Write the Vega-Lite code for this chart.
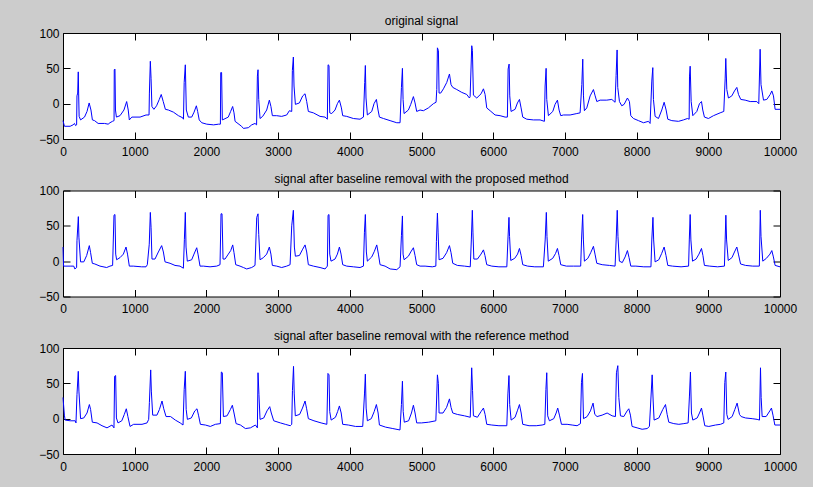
{
"$schema": "https://vega.github.io/schema/vega-lite/v6.json",
"background": "#cccccc",
"padding": {"left": 38, "top": 14, "right": 18, "bottom": 14},
"autosize": {"type": "pad"},
"spacing": 51.5,
"bounds": "flush",
"config": {
  "view": {"stroke": "black", "strokeWidth": 1, "fill": "white"},
  "font": "Liberation Sans",
  "axis": {"grid": false, "domain": false, "tickColor": "black", "tickSize": -7, "tickWidth": 1, "labelFontSize": 12, "labelColor": "black", "labelFont": "Liberation Sans", "labelFlush": false, "labelOverlap": false, "format": "d"},
  "title": {"fontSize": 12, "fontWeight": "normal", "font": "Liberation Sans", "color": "black", "offset": -1}
},
"datasets": {
"p1": [{"x":0,"y":-24},{"x":20,"y":-32},{"x":100,"y":-32},{"x":140,"y":-30},{"x":160,"y":-28},{"x":175,"y":-31},{"x":190,"y":-30},{"x":195,"y":11},{"x":205,"y":15},{"x":213,"y":45},{"x":218,"y":15},{"x":225,"y":-18},{"x":245,"y":-23},{"x":300,"y":-19},{"x":335,"y":-11},{"x":365,"y":1},{"x":390,"y":-9},{"x":410,"y":-23},{"x":440,"y":-24},{"x":490,"y":-28},{"x":580,"y":-28},{"x":630,"y":-29},{"x":655,"y":-27},{"x":690,"y":-25},{"x":712,"y":-24},{"x":715,"y":48},{"x":725,"y":49},{"x":732,"y":-9},{"x":745,"y":-19},{"x":795,"y":-17},{"x":850,"y":-9},{"x":888,"y":3},{"x":910,"y":-9},{"x":925,"y":-23},{"x":960,"y":-19},{"x":1075,"y":-19},{"x":1158,"y":-16},{"x":1200,"y":-16},{"x":1205,"y":15},{"x":1218,"y":60},{"x":1228,"y":36},{"x":1240,"y":-4},{"x":1268,"y":-8},{"x":1305,"y":-3},{"x":1343,"y":6},{"x":1370,"y":13},{"x":1398,"y":3},{"x":1428,"y":-8},{"x":1470,"y":-9},{"x":1540,"y":-12},{"x":1610,"y":-17},{"x":1670,"y":-20},{"x":1680,"y":-22},{"x":1690,"y":30},{"x":1706,"y":55},{"x":1720,"y":-9},{"x":1748,"y":-19},{"x":1795,"y":-19},{"x":1828,"y":-12},{"x":1860,"y":-3},{"x":1878,"y":-11},{"x":1900,"y":-23},{"x":1935,"y":-27},{"x":2005,"y":-29},{"x":2100,"y":-30},{"x":2170,"y":-29},{"x":2195,"y":-29},{"x":2200,"y":44},{"x":2212,"y":44},{"x":2222,"y":-23},{"x":2245,"y":-22},{"x":2305,"y":-19},{"x":2338,"y":-11},{"x":2366,"y":-4},{"x":2385,"y":-13},{"x":2400,"y":-25},{"x":2490,"y":-32},{"x":2516,"y":-35},{"x":2585,"y":-34},{"x":2632,"y":-30},{"x":2678,"y":-28},{"x":2700,"y":-30},{"x":2711,"y":39},{"x":2720,"y":48},{"x":2730,"y":6},{"x":2748,"y":-21},{"x":2785,"y":-18},{"x":2841,"y":-9},{"x":2878,"y":5},{"x":2900,"y":-4},{"x":2920,"y":-17},{"x":2980,"y":-17},{"x":3050,"y":-18},{"x":3120,"y":-16},{"x":3157,"y":-10},{"x":3190,"y":-11},{"x":3199,"y":47},{"x":3213,"y":66},{"x":3222,"y":25},{"x":3241,"y":-1},{"x":3297,"y":1},{"x":3343,"y":11},{"x":3376,"y":14},{"x":3399,"y":3},{"x":3422,"y":-11},{"x":3492,"y":-13},{"x":3585,"y":-18},{"x":3655,"y":-19},{"x":3687,"y":-22},{"x":3697,"y":55},{"x":3710,"y":54},{"x":3720,"y":-13},{"x":3748,"y":-14},{"x":3794,"y":-9},{"x":3827,"y":0},{"x":3855,"y":5},{"x":3883,"y":-6},{"x":3901,"y":-17},{"x":3957,"y":-18},{"x":4050,"y":-21},{"x":4143,"y":-22},{"x":4190,"y":-19},{"x":4208,"y":30},{"x":4217,"y":54},{"x":4226,"y":8},{"x":4245,"y":-16},{"x":4306,"y":-11},{"x":4338,"y":0},{"x":4371,"y":6},{"x":4394,"y":-9},{"x":4413,"y":-19},{"x":4469,"y":-21},{"x":4562,"y":-24},{"x":4655,"y":-27},{"x":4701,"y":-27},{"x":4720,"y":23},{"x":4734,"y":50},{"x":4743,"y":6},{"x":4757,"y":-14},{"x":4817,"y":-9},{"x":4850,"y":-1},{"x":4887,"y":10},{"x":4910,"y":1},{"x":4933,"y":-11},{"x":4980,"y":-9},{"x":5026,"y":-10},{"x":5096,"y":-6},{"x":5166,"y":0},{"x":5203,"y":2},{"x":5213,"y":20},{"x":5222,"y":79},{"x":5236,"y":75},{"x":5245,"y":15},{"x":5268,"y":15},{"x":5306,"y":21},{"x":5352,"y":30},{"x":5390,"y":42},{"x":5412,"y":27},{"x":5436,"y":23},{"x":5492,"y":20},{"x":5561,"y":16},{"x":5631,"y":13},{"x":5668,"y":8},{"x":5678,"y":10},{"x":5701,"y":82},{"x":5710,"y":75},{"x":5724,"y":12},{"x":5771,"y":8},{"x":5831,"y":14},{"x":5864,"y":21},{"x":5887,"y":13},{"x":5910,"y":-6},{"x":5957,"y":-10},{"x":6026,"y":-16},{"x":6096,"y":-17},{"x":6166,"y":-19},{"x":6198,"y":-19},{"x":6208,"y":49},{"x":6222,"y":56},{"x":6231,"y":11},{"x":6249,"y":-11},{"x":6305,"y":-8},{"x":6338,"y":1},{"x":6366,"y":6},{"x":6389,"y":-6},{"x":6412,"y":-19},{"x":6468,"y":-22},{"x":6561,"y":-23},{"x":6654,"y":-23},{"x":6714,"y":-25},{"x":6724,"y":25},{"x":6738,"y":50},{"x":6747,"y":6},{"x":6770,"y":-17},{"x":6831,"y":-11},{"x":6863,"y":-1},{"x":6896,"y":5},{"x":6919,"y":-9},{"x":6942,"y":-17},{"x":6980,"y":-16},{"x":7073,"y":-16},{"x":7166,"y":-14},{"x":7212,"y":-13},{"x":7236,"y":27},{"x":7249,"y":63},{"x":7259,"y":11},{"x":7272,"y":-10},{"x":7305,"y":-6},{"x":7352,"y":11},{"x":7398,"y":20},{"x":7422,"y":11},{"x":7445,"y":3},{"x":7491,"y":5},{"x":7584,"y":5},{"x":7654,"y":6},{"x":7700,"y":2},{"x":7714,"y":40},{"x":7728,"y":76},{"x":7737,"y":23},{"x":7761,"y":3},{"x":7793,"y":-3},{"x":7826,"y":-1},{"x":7872,"y":8},{"x":7900,"y":3},{"x":7919,"y":-17},{"x":7956,"y":-21},{"x":8026,"y":-24},{"x":8096,"y":-27},{"x":8165,"y":-25},{"x":8188,"y":-28},{"x":8212,"y":32},{"x":8226,"y":51},{"x":8235,"y":6},{"x":8258,"y":-18},{"x":8305,"y":-21},{"x":8351,"y":-9},{"x":8384,"y":2},{"x":8412,"y":-9},{"x":8435,"y":-22},{"x":8491,"y":-24},{"x":8584,"y":-25},{"x":8654,"y":-23},{"x":8709,"y":-21},{"x":8733,"y":-22},{"x":8738,"y":39},{"x":8747,"y":53},{"x":8761,"y":3},{"x":8784,"y":-17},{"x":8840,"y":-11},{"x":8877,"y":0},{"x":8905,"y":3},{"x":8923,"y":-9},{"x":8946,"y":-19},{"x":9002,"y":-21},{"x":9072,"y":-17},{"x":9165,"y":-13},{"x":9216,"y":-11},{"x":9235,"y":35},{"x":9244,"y":64},{"x":9258,"y":20},{"x":9281,"y":8},{"x":9328,"y":11},{"x":9365,"y":18},{"x":9398,"y":23},{"x":9421,"y":13},{"x":9453,"y":6},{"x":9514,"y":5},{"x":9584,"y":3},{"x":9677,"y":3},{"x":9704,"y":0},{"x":9723,"y":77},{"x":9735,"y":27},{"x":9770,"y":5},{"x":9816,"y":6},{"x":9863,"y":13},{"x":9886,"y":18},{"x":9909,"y":11},{"x":9932,"y":-8},{"x":10000,"y":-8}],
"p2": [{"x":0,"y":20},{"x":8,"y":-7},{"x":100,"y":-7},{"x":150,"y":-7},{"x":165,"y":-11},{"x":190,"y":-9},{"x":195,"y":29},{"x":214,"y":63},{"x":222,"y":34},{"x":245,"y":-1},{"x":290,"y":-1},{"x":330,"y":8},{"x":367,"y":22},{"x":385,"y":12},{"x":409,"y":-3},{"x":445,"y":-4},{"x":516,"y":-7},{"x":609,"y":-9},{"x":655,"y":-7},{"x":692,"y":-6},{"x":711,"y":65},{"x":725,"y":66},{"x":735,"y":10},{"x":748,"y":2},{"x":795,"y":5},{"x":842,"y":10},{"x":879,"y":20},{"x":900,"y":10},{"x":925,"y":-7},{"x":980,"y":-7},{"x":1097,"y":-8},{"x":1158,"y":-8},{"x":1176,"y":-5},{"x":1203,"y":24},{"x":1218,"y":69},{"x":1228,"y":48},{"x":1241,"y":3},{"x":1283,"y":3},{"x":1330,"y":13},{"x":1376,"y":22},{"x":1400,"y":13},{"x":1423,"y":-1},{"x":1493,"y":-3},{"x":1562,"y":-6},{"x":1632,"y":-7},{"x":1679,"y":-10},{"x":1693,"y":31},{"x":1706,"y":69},{"x":1716,"y":20},{"x":1734,"y":0},{"x":1795,"y":2},{"x":1827,"y":10},{"x":1865,"y":19},{"x":1883,"y":10},{"x":1911,"y":-7},{"x":1958,"y":-7},{"x":2051,"y":-8},{"x":2144,"y":-7},{"x":2190,"y":-5},{"x":2204,"y":67},{"x":2218,"y":67},{"x":2232,"y":3},{"x":2260,"y":3},{"x":2306,"y":10},{"x":2339,"y":15},{"x":2367,"y":23},{"x":2385,"y":12},{"x":2409,"y":-5},{"x":2469,"y":-7},{"x":2516,"y":-9},{"x":2562,"y":-11},{"x":2632,"y":-9},{"x":2678,"y":-6},{"x":2702,"y":62},{"x":2720,"y":67},{"x":2730,"y":38},{"x":2748,"y":2},{"x":2795,"y":5},{"x":2841,"y":10},{"x":2878,"y":20},{"x":2900,"y":10},{"x":2920,"y":-6},{"x":2980,"y":-7},{"x":3050,"y":-9},{"x":3120,"y":-7},{"x":3167,"y":-5},{"x":3190,"y":50},{"x":3213,"y":72},{"x":3227,"y":20},{"x":3241,"y":7},{"x":3297,"y":8},{"x":3343,"y":17},{"x":3376,"y":23},{"x":3399,"y":13},{"x":3422,"y":-5},{"x":3492,"y":-7},{"x":3585,"y":-9},{"x":3655,"y":-11},{"x":3687,"y":-7},{"x":3697,"y":65},{"x":3710,"y":66},{"x":3720,"y":10},{"x":3738,"y":0},{"x":3794,"y":3},{"x":3827,"y":10},{"x":3855,"y":20},{"x":3878,"y":10},{"x":3901,"y":-5},{"x":3957,"y":-7},{"x":4050,"y":-8},{"x":4143,"y":-9},{"x":4190,"y":-7},{"x":4204,"y":41},{"x":4217,"y":66},{"x":4231,"y":13},{"x":4245,"y":0},{"x":4306,"y":6},{"x":4343,"y":14},{"x":4376,"y":23},{"x":4399,"y":10},{"x":4422,"y":-5},{"x":4492,"y":-7},{"x":4562,"y":-11},{"x":4655,"y":-12},{"x":4701,"y":-8},{"x":4720,"y":36},{"x":4734,"y":64},{"x":4743,"y":10},{"x":4757,"y":2},{"x":4817,"y":7},{"x":4850,"y":13},{"x":4887,"y":19},{"x":4910,"y":8},{"x":4933,"y":-5},{"x":4980,"y":-7},{"x":5050,"y":-7},{"x":5150,"y":-8},{"x":5200,"y":-7},{"x":5208,"y":28},{"x":5222,"y":68},{"x":5232,"y":40},{"x":5245,"y":2},{"x":5300,"y":4},{"x":5350,"y":12},{"x":5390,"y":22},{"x":5412,"y":12},{"x":5436,"y":-3},{"x":5500,"y":-6},{"x":5600,"y":-7},{"x":5680,"y":-8},{"x":5695,"y":30},{"x":5709,"y":72},{"x":5718,"y":40},{"x":5730,"y":3},{"x":5780,"y":3},{"x":5830,"y":10},{"x":5864,"y":16},{"x":5885,"y":8},{"x":5910,"y":-5},{"x":5980,"y":-7},{"x":6080,"y":-8},{"x":6190,"y":-8},{"x":6205,"y":30},{"x":6220,"y":62},{"x":6228,"y":35},{"x":6245,"y":1},{"x":6300,"y":4},{"x":6340,"y":10},{"x":6366,"y":18},{"x":6390,"y":8},{"x":6412,"y":-5},{"x":6480,"y":-7},{"x":6580,"y":-8},{"x":6700,"y":-8},{"x":6725,"y":30},{"x":6741,"y":69},{"x":6750,"y":35},{"x":6768,"y":0},{"x":6830,"y":4},{"x":6870,"y":11},{"x":6896,"y":18},{"x":6918,"y":8},{"x":6942,"y":-5},{"x":7020,"y":-7},{"x":7120,"y":-7},{"x":7220,"y":-7},{"x":7232,"y":30},{"x":7248,"y":66},{"x":7258,"y":30},{"x":7272,"y":0},{"x":7320,"y":4},{"x":7360,"y":12},{"x":7398,"y":21},{"x":7420,"y":10},{"x":7445,"y":-3},{"x":7520,"y":-5},{"x":7620,"y":-6},{"x":7700,"y":-7},{"x":7715,"y":30},{"x":7730,"y":72},{"x":7740,"y":35},{"x":7760,"y":0},{"x":7800,"y":-2},{"x":7840,"y":6},{"x":7872,"y":15},{"x":7895,"y":5},{"x":7919,"y":-7},{"x":7990,"y":-7},{"x":8100,"y":-8},{"x":8200,"y":-8},{"x":8212,"y":30},{"x":8228,"y":62},{"x":8238,"y":30},{"x":8258,"y":-1},{"x":8310,"y":2},{"x":8350,"y":11},{"x":8384,"y":20},{"x":8410,"y":8},{"x":8435,"y":-6},{"x":8500,"y":-7},{"x":8620,"y":-8},{"x":8725,"y":-7},{"x":8735,"y":30},{"x":8747,"y":66},{"x":8757,"y":30},{"x":8780,"y":0},{"x":8830,"y":3},{"x":8870,"y":10},{"x":8905,"y":18},{"x":8925,"y":8},{"x":8946,"y":-6},{"x":9020,"y":-7},{"x":9130,"y":-8},{"x":9225,"y":-7},{"x":9235,"y":30},{"x":9245,"y":65},{"x":9255,"y":30},{"x":9278,"y":1},{"x":9330,"y":5},{"x":9365,"y":13},{"x":9398,"y":20},{"x":9420,"y":10},{"x":9450,"y":-4},{"x":9520,"y":-6},{"x":9620,"y":-7},{"x":9712,"y":-7},{"x":9725,"y":72},{"x":9735,"y":35},{"x":9760,"y":0},{"x":9810,"y":4},{"x":9860,"y":10},{"x":9886,"y":15},{"x":9908,"y":6},{"x":9932,"y":-6},{"x":10000,"y":-8}],
"p3": [{"x":0,"y":30},{"x":19,"y":5},{"x":30,"y":-2},{"x":100,"y":-3},{"x":170,"y":-3},{"x":181,"y":-6},{"x":195,"y":34},{"x":213,"y":67},{"x":222,"y":39},{"x":245,"y":0},{"x":290,"y":1},{"x":335,"y":8},{"x":368,"y":20},{"x":385,"y":13},{"x":409,"y":-5},{"x":475,"y":-6},{"x":544,"y":-10},{"x":614,"y":-13},{"x":683,"y":-9},{"x":711,"y":-13},{"x":720,"y":60},{"x":734,"y":61},{"x":745,"y":1},{"x":767,"y":-6},{"x":820,"y":-3},{"x":855,"y":6},{"x":883,"y":14},{"x":905,"y":3},{"x":935,"y":-11},{"x":985,"y":-8},{"x":1102,"y":-8},{"x":1172,"y":-6},{"x":1195,"y":-1},{"x":1205,"y":23},{"x":1223,"y":69},{"x":1232,"y":39},{"x":1251,"y":5},{"x":1310,"y":5},{"x":1345,"y":13},{"x":1381,"y":25},{"x":1405,"y":14},{"x":1437,"y":3},{"x":1500,"y":3},{"x":1567,"y":-2},{"x":1635,"y":-6},{"x":1674,"y":-9},{"x":1690,"y":41},{"x":1706,"y":67},{"x":1718,"y":13},{"x":1735,"y":-1},{"x":1790,"y":1},{"x":1838,"y":11},{"x":1869,"y":14},{"x":1892,"y":4},{"x":1916,"y":-8},{"x":1986,"y":-9},{"x":2055,"y":-11},{"x":2125,"y":-8},{"x":2195,"y":-7},{"x":2208,"y":66},{"x":2222,"y":65},{"x":2237,"y":3},{"x":2288,"y":4},{"x":2335,"y":13},{"x":2362,"y":19},{"x":2385,"y":8},{"x":2414,"y":-7},{"x":2475,"y":-9},{"x":2544,"y":-14},{"x":2614,"y":-13},{"x":2684,"y":-9},{"x":2711,"y":-13},{"x":2720,"y":65},{"x":2733,"y":34},{"x":2748,"y":-1},{"x":2800,"y":1},{"x":2845,"y":11},{"x":2883,"y":17},{"x":2905,"y":8},{"x":2939,"y":-3},{"x":3032,"y":-6},{"x":3100,"y":-8},{"x":3170,"y":-10},{"x":3190,"y":-8},{"x":3200,"y":40},{"x":3215,"y":74},{"x":3225,"y":35},{"x":3240,"y":4},{"x":3300,"y":6},{"x":3340,"y":15},{"x":3376,"y":25},{"x":3398,"y":14},{"x":3422,"y":0},{"x":3500,"y":-3},{"x":3600,"y":-6},{"x":3680,"y":-8},{"x":3695,"y":64},{"x":3710,"y":62},{"x":3720,"y":10},{"x":3740,"y":-2},{"x":3800,"y":2},{"x":3830,"y":10},{"x":3855,"y":18},{"x":3880,"y":8},{"x":3901,"y":-8},{"x":3980,"y":-9},{"x":4080,"y":-11},{"x":4180,"y":-11},{"x":4205,"y":35},{"x":4217,"y":63},{"x":4228,"y":15},{"x":4245,"y":-3},{"x":4300,"y":0},{"x":4340,"y":10},{"x":4371,"y":20},{"x":4395,"y":8},{"x":4413,"y":-9},{"x":4500,"y":-12},{"x":4600,"y":-14},{"x":4700,"y":-16},{"x":4720,"y":20},{"x":4734,"y":53},{"x":4745,"y":10},{"x":4760,"y":-5},{"x":4820,"y":-3},{"x":4860,"y":8},{"x":4887,"y":19},{"x":4910,"y":8},{"x":4933,"y":-6},{"x":5000,"y":-6},{"x":5100,"y":-5},{"x":5200,"y":-3},{"x":5210,"y":25},{"x":5222,"y":62},{"x":5235,"y":50},{"x":5245,"y":8},{"x":5300,"y":8},{"x":5350,"y":16},{"x":5390,"y":28},{"x":5412,"y":16},{"x":5436,"y":8},{"x":5500,"y":6},{"x":5600,"y":4},{"x":5680,"y":2},{"x":5700,"y":72},{"x":5712,"y":40},{"x":5724,"y":4},{"x":5780,"y":2},{"x":5830,"y":10},{"x":5864,"y":15},{"x":5887,"y":6},{"x":5910,"y":-8},{"x":5980,"y":-9},{"x":6080,"y":-10},{"x":6190,"y":-10},{"x":6205,"y":35},{"x":6220,"y":61},{"x":6230,"y":20},{"x":6250,"y":-2},{"x":6305,"y":2},{"x":6340,"y":12},{"x":6366,"y":20},{"x":6390,"y":8},{"x":6412,"y":-8},{"x":6500,"y":-10},{"x":6600,"y":-10},{"x":6682,"y":-9},{"x":6720,"y":-8},{"x":6735,"y":41},{"x":6747,"y":65},{"x":6760,"y":4},{"x":6784,"y":-3},{"x":6845,"y":0},{"x":6878,"y":8},{"x":6900,"y":15},{"x":6924,"y":5},{"x":6952,"y":-8},{"x":7031,"y":-8},{"x":7101,"y":-9},{"x":7170,"y":-10},{"x":7217,"y":-7},{"x":7231,"y":51},{"x":7245,"y":64},{"x":7259,"y":0},{"x":7310,"y":3},{"x":7356,"y":11},{"x":7393,"y":22},{"x":7417,"y":6},{"x":7449,"y":3},{"x":7519,"y":5},{"x":7589,"y":8},{"x":7659,"y":4},{"x":7705,"y":3},{"x":7719,"y":65},{"x":7738,"y":75},{"x":7752,"y":30},{"x":7775,"y":4},{"x":7821,"y":3},{"x":7868,"y":11},{"x":7891,"y":14},{"x":7914,"y":5},{"x":7937,"y":-11},{"x":8007,"y":-13},{"x":8077,"y":-15},{"x":8147,"y":-14},{"x":8179,"y":-11},{"x":8217,"y":62},{"x":8231,"y":25},{"x":8244,"y":-2},{"x":8310,"y":1},{"x":8365,"y":13},{"x":8403,"y":20},{"x":8426,"y":6},{"x":8449,"y":-5},{"x":8519,"y":-7},{"x":8589,"y":-8},{"x":8659,"y":-7},{"x":8719,"y":-6},{"x":8737,"y":32},{"x":8751,"y":66},{"x":8765,"y":8},{"x":8784,"y":-2},{"x":8845,"y":1},{"x":8877,"y":8},{"x":8905,"y":15},{"x":8924,"y":5},{"x":8951,"y":-10},{"x":9007,"y":-11},{"x":9100,"y":-9},{"x":9170,"y":-8},{"x":9216,"y":-6},{"x":9230,"y":51},{"x":9244,"y":66},{"x":9258,"y":6},{"x":9277,"y":-1},{"x":9333,"y":3},{"x":9370,"y":13},{"x":9402,"y":22},{"x":9435,"y":6},{"x":9458,"y":3},{"x":9519,"y":1},{"x":9612,"y":0},{"x":9681,"y":-1},{"x":9714,"y":-2},{"x":9728,"y":72},{"x":9737,"y":30},{"x":9751,"y":3},{"x":9807,"y":3},{"x":9858,"y":11},{"x":9881,"y":15},{"x":9904,"y":4},{"x":9928,"y":-9},{"x":10000,"y":-9}]
},
"vconcat": [
{
 "title": "original signal",
 "width": 717, "height": 106,
 "data": {"name": "p1"},
 "layer": [
  {"mark": {"type": "line", "color": "#0000ff", "strokeWidth": 1},
   "encoding": {
    "x": {"field": "x", "type": "quantitative", "scale": {"domain": [0, 10000], "nice": false}, "axis": {"orient": "bottom", "values": [0,1000,2000,3000,4000,5000,6000,7000,8000,9000,10000], "labelPadding": 14, "title": null}},
    "y": {"field": "y", "type": "quantitative", "scale": {"domain": [-50, 100], "nice": false, "zero": false}, "axis": {"orient": "left", "values": [-50,0,50,100], "labelPadding": 11, "title": null}}
   }},
  {"mark": {"type": "line", "strokeOpacity": 0},
   "encoding": {
    "x": {"field": "x", "type": "quantitative", "axis": {"orient": "top", "values": [0,1000,2000,3000,4000,5000,6000,7000,8000,9000,10000], "labels": false, "title": null}},
    "y": {"field": "y", "type": "quantitative", "axis": {"orient": "right", "values": [-50,0,50,100], "labels": false, "title": null}}
   }}
 ],
 "resolve": {"axis": {"x": "independent", "y": "independent"}}
},
{
 "title": "signal after baseline removal with the proposed method",
 "width": 717, "height": 106,
 "data": {"name": "p2"},
 "layer": [
  {"mark": {"type": "line", "color": "#0000ff", "strokeWidth": 1},
   "encoding": {
    "x": {"field": "x", "type": "quantitative", "scale": {"domain": [0, 10000], "nice": false}, "axis": {"orient": "bottom", "values": [0,1000,2000,3000,4000,5000,6000,7000,8000,9000,10000], "labelPadding": 14, "title": null}},
    "y": {"field": "y", "type": "quantitative", "scale": {"domain": [-50, 100], "nice": false, "zero": false}, "axis": {"orient": "left", "values": [-50,0,50,100], "labelPadding": 11, "title": null}}
   }},
  {"mark": {"type": "line", "strokeOpacity": 0},
   "encoding": {
    "x": {"field": "x", "type": "quantitative", "axis": {"orient": "top", "values": [0,1000,2000,3000,4000,5000,6000,7000,8000,9000,10000], "labels": false, "title": null}},
    "y": {"field": "y", "type": "quantitative", "axis": {"orient": "right", "values": [-50,0,50,100], "labels": false, "title": null}}
   }}
 ],
 "resolve": {"axis": {"x": "independent", "y": "independent"}}
},
{
 "title": "signal after baseline removal with the reference method",
 "width": 717, "height": 106,
 "data": {"name": "p3"},
 "layer": [
  {"mark": {"type": "line", "color": "#0000ff", "strokeWidth": 1},
   "encoding": {
    "x": {"field": "x", "type": "quantitative", "scale": {"domain": [0, 10000], "nice": false}, "axis": {"orient": "bottom", "values": [0,1000,2000,3000,4000,5000,6000,7000,8000,9000,10000], "labelPadding": 14, "title": null}},
    "y": {"field": "y", "type": "quantitative", "scale": {"domain": [-50, 100], "nice": false, "zero": false}, "axis": {"orient": "left", "values": [-50,0,50,100], "labelPadding": 11, "title": null}}
   }},
  {"mark": {"type": "line", "strokeOpacity": 0},
   "encoding": {
    "x": {"field": "x", "type": "quantitative", "axis": {"orient": "top", "values": [0,1000,2000,3000,4000,5000,6000,7000,8000,9000,10000], "labels": false, "title": null}},
    "y": {"field": "y", "type": "quantitative", "axis": {"orient": "right", "values": [-50,0,50,100], "labels": false, "title": null}}
   }}
 ],
 "resolve": {"axis": {"x": "independent", "y": "independent"}}
}
]
}
